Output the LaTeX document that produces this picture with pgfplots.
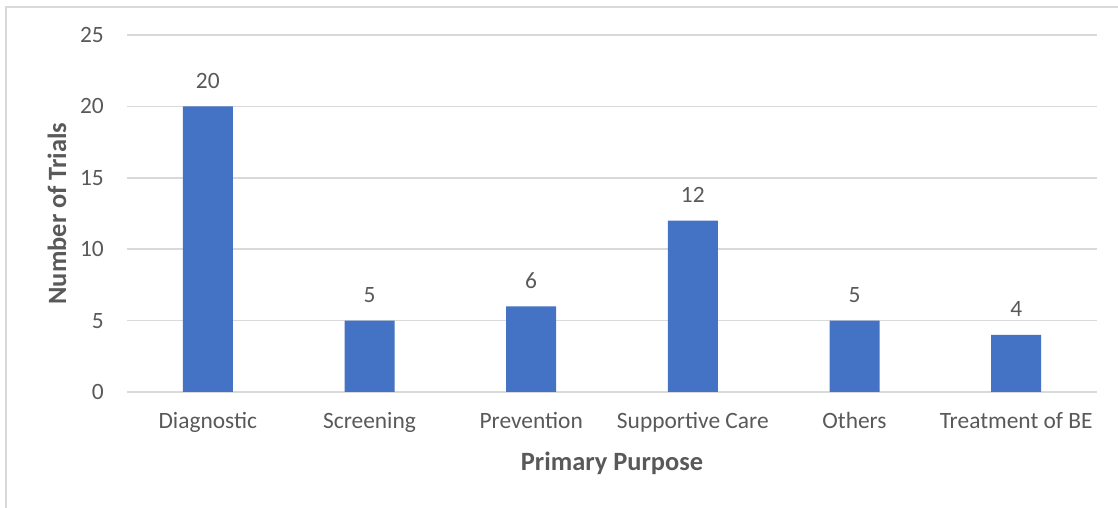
\documentclass[border=0pt]{standalone}
\usepackage{pgfplots}
\pgfplotsset{compat=1.18}
\usepackage{fontspec}
\setmainfont{Carlito}
\definecolor{barblue}{HTML}{4472C4}
\definecolor{txtgray}{HTML}{595959}
\definecolor{gridgray}{HTML}{D9D9D9}
\begin{document}
\begin{tikzpicture}[x=1bp,y=1bp]
\path[use as bounding box] (0,0) rectangle (1118,508);
% chart frame (cut off at right and bottom)
\draw[gridgray, line width=1.5bp] (6,0) -- (6,501) -- (1118,501);
\begin{axis}[
  at={(127bp,116bp)}, anchor=south west,
  scale only axis, width=970bp, height=357bp,
  ybar, bar width=50bp,
  xmin=-0.5, xmax=5.5, ymin=0, ymax=25,
  xtick=data,
  xticklabels={Diagnostic,Screening,Prevention,Supportive Care,Others,Treatment of BE},
  ytick={0,5,10,15,20,25},
  axis line style={draw=none},
  major tick length=0pt,
  ymajorgrids,
  major grid style={gridgray, line width=1.5bp},
  /pgf/number format/assume math mode=true,
  tick label style={font=\fontsize{23.5}{28}\selectfont, text=txtgray},
  yticklabel style={anchor=east, inner sep=0pt, xshift=-23bp},
  xticklabel style={anchor=base, inner sep=0pt, yshift=-37bp},
  xlabel={Primary Purpose},
  ylabel={Number of Trials},
  label style={font=\bfseries\fontsize{26.5}{31}\selectfont, text=txtgray},
  xlabel style={at={(axis description cs:0.5,0)}, anchor=base, inner sep=0pt, yshift=-79bp},
  ylabel style={at={(axis description cs:0,0.5)}, anchor=base, inner sep=0pt, yshift=61bp},
  nodes near coords,
  nodes near coords style={font=\fontsize{23.5}{28}\selectfont, text=txtgray, anchor=base, inner sep=0pt, yshift=18bp},
]
\addplot[fill=barblue, draw=none] coordinates {
  (0,20) (1,5) (2,6) (3,12) (4,5) (5,4)
};
\end{axis}
\end{tikzpicture}
\end{document}
